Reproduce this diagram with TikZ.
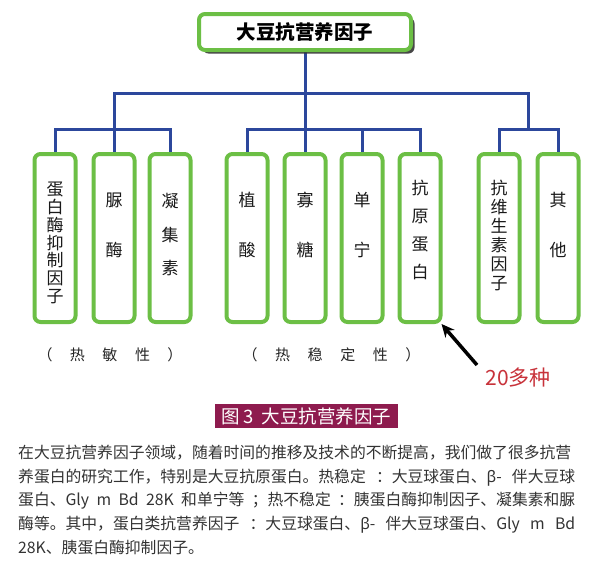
\documentclass[tikz,border=0pt]{standalone}
\usepackage{fontspec}
\newfontfamily\cjk{Noto Sans CJK SC}
\newfontfamily\lat{Noto Sans}
\usetikzlibrary{shadows,arrows.meta,backgrounds}
\definecolor{boxgreen}{HTML}{6CBF45}
\definecolor{linkblue}{HTML}{2C479C}
\definecolor{capred}{HTML}{8E1B4E}
\definecolor{numred}{HTML}{C8323A}
\definecolor{bodygray}{HTML}{333333}
\XeTeXlinebreaklocale "zh"
\XeTeXlinebreakskip=0pt plus 2pt
\tikzset{
  leaf/.style={draw=boxgreen, line width=4pt, rounded corners=6pt, fill=white,
    minimum width=41pt, minimum height=168pt, inner sep=0pt},
  root/.style={draw=boxgreen, line width=4pt, rounded corners=6pt, fill=white,
    minimum width=212pt, minimum height=36pt, inner sep=0pt,
    font=\cjk\bfseries\fontsize{19.5}{20}\selectfont,
    drop shadow={shadow xshift=3.5pt, shadow yshift=-3.5pt, fill=black!80, opacity=0.9}},
  conn/.style={draw=linkblue, line width=3pt, line cap=rect},
  vt/.style={align=center, inner sep=0pt, text=black!90,
    font=\cjk\fontsize{17}{#1}\selectfont},
  heatlab/.style={inner sep=0pt, text=black!85, font=\cjk\fontsize{15}{15}\selectfont},
  arrowline/.style={draw=black, line width=3.5pt, -{Stealth[length=13pt,width=12pt]}},
  bodyline/.style={anchor=west, inner sep=0pt, text=bodygray,
    font=\cjk\fontsize{15.8}{16}\selectfont},
}
\newcommand\cb[2]{\makebox[#1]{#2}}
\begin{document}
\begin{tikzpicture}[x=1pt,y=-1pt]
\useasboundingbox (0,0) rectangle (591,560);

% root
\node[root] (top) at (305,32) {大豆抗营养因子};

% leaves
\node[leaf] (b1) at (55,238) {};
\node[leaf] (b2) at (114,238) {};
\node[leaf] (b3) at (170,238) {};
\node[leaf] (b4) at (247,238) {};
\node[leaf] (b5) at (305,238) {};
\node[leaf] (b6) at (362,238) {};
\node[leaf] (b7) at (420,238) {};
\node[leaf] (b8) at (499,238) {};
\node[leaf] (b9) at (558,238) {};

% leaf texts
\node[vt=17.8] (t1) at (55,243) {蛋\\白\\酶\\抑\\制\\因\\子};
\node[vt=50] (t2) at (114,225) {脲\\酶};
\node[vt=33.5] (t3) at (170,235) {凝\\集\\素};
\node[vt=50] (t4) at (247,225) {植\\酸};
\node[vt=50] (t5) at (305,225) {寡\\糖};
\node[vt=50] (t6) at (362,225) {单\\宁};
\node[vt=28] (t7) at (420,230) {抗\\原\\蛋\\白};
\node[vt=19] (t8) at (499,235) {抗\\维\\生\\素\\因\\子};
\node[vt=50] (t9) at (558,225) {其\\他};

% connectors
\coordinate (hub) at (305,93);
\coordinate (jL) at (114,93);
\coordinate (jR) at (528,93);
\coordinate (barY) at (0,129);
\begin{scope}[on background layer]
\fill[white] (0,0) rectangle (591,560);
\draw[conn] (top.south) -- (hub);
\draw[conn] (jL) -- (jR);
\draw[conn] (jL) -- (b2.north);
\draw[conn] (b1.north) -- (b1.north |- barY) -- (b3.north |- barY) -- (b3.north);
\draw[conn] (hub) -- (b5.north);
\draw[conn] (b4.north) -- (b4.north |- barY) -- (b7.north |- barY) -- (b7.north);
\draw[conn] (b6.north) -- (b6.north |- barY);
\draw[conn] (jR) -- (jR |- barY);
\draw[conn] (b8.north) -- (b8.north |- barY) -- (b9.north |- barY) -- (b9.north);
\end{scope}

% group labels
\node[heatlab] (heat1) at (110,355) {\cb{32.5pt}{（}\cb{32.5pt}{热}\cb{32.5pt}{敏}\cb{32.5pt}{性}\cb{32.5pt}{）}};
\node[heatlab] (heat2) at (331.5,355) {\cb{32.6pt}{（}\cb{32.6pt}{热}\cb{32.6pt}{稳}\cb{32.6pt}{定}\cb{32.6pt}{性}\cb{32.6pt}{）}};

% arrow and count
\coordinate (arrtail) at (477,365);
\draw[arrowline] (arrtail) -- ([xshift=-1pt]b7.south east);
\node[font=\cjk\fontsize{21}{21}\selectfont, text=numred, inner sep=0pt] (num) at (518,378) {20多种};

% caption
\node[fill=capred, text=white, font=\cjk\fontsize{18.5}{19}\selectfont,
  minimum width=183pt, minimum height=24pt, inner sep=0pt] (cap) at (306.5,416)
  {图\,3\ \ 大豆抗营养因子};

% body text
\node[bodyline] (p1) at (18,453) {\hbox to 557pt{在大豆抗营养因子领域，随着时间的推移及技术的不断提高，我们做了很多抗营}};
\node[bodyline] (p2) at (18,478) {\hbox to 557pt{养蛋白的研究工作，特别是大豆抗原蛋白。热稳定 ：大豆球蛋白、{\lat β}- 伴大豆球}};
\node[bodyline] (p3) at (18,501) {\hbox to 557pt{蛋白、Gly m Bd 28K 和单宁等 ；热不稳定 ：胰蛋白酶抑制因子、凝集素和脲}};
\node[bodyline] (p4) at (18,525) {\hbox to 557pt{酶等。其中，蛋白类抗营养因子 ：大豆球蛋白、{\lat β}- 伴大豆球蛋白、Gly m Bd}};
\node[bodyline] (p5) at (18,548) {28K、胰蛋白酶抑制因子。};
\end{tikzpicture}
\end{document}
